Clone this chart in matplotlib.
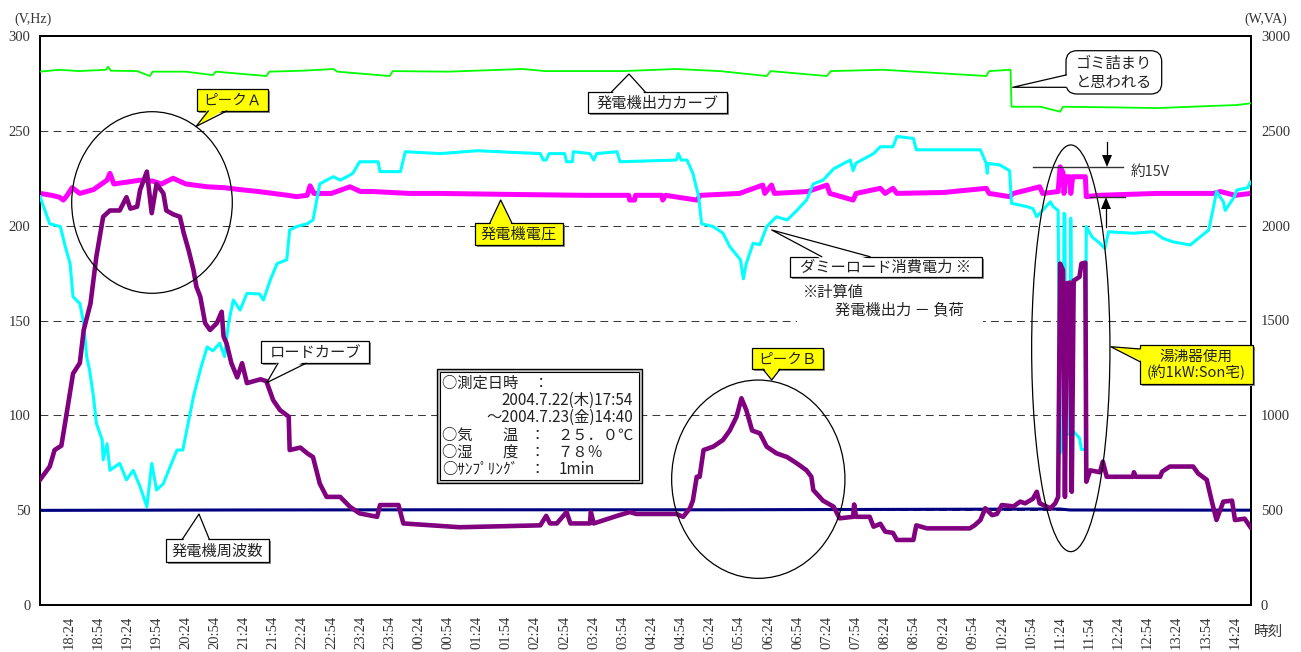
import matplotlib
matplotlib.use("Agg")
import matplotlib.pyplot as plt
from matplotlib.patches import Ellipse, Polygon, FancyBboxPatch, Rectangle
from matplotlib.lines import Line2D
from matplotlib.transforms import IdentityTransform

plt.rcParams['font.family'] = ['Noto Sans CJK JP', 'DejaVu Sans']
SERIF = ['Liberation Serif', 'Noto Sans CJK JP']

# ---------------- data (minutes after 2004-07-22 17:54) ----------------
START_MIN = 17 * 60 + 54
END_MIN = 1246
X_TICK_MIN = list(range(30, 1231, 30))
LEFT_TICKS = [0, 50, 100, 150, 200, 250, 300]
RIGHT_TICKS = [0, 500, 1000, 1500, 2000, 2500, 3000]
GRID_V = [50, 100, 150, 200, 250]

# generator output curve (W)
GEN_OUT = [(0, 2812), (20, 2822), (40, 2815), (68, 2822), (70, 2838), (73, 2817), (100, 2815),
           (113, 2789), (116, 2812), (150, 2812), (178, 2794), (181, 2812), (233, 2789), (236, 2812),
           (270, 2817), (302, 2826), (306, 2812), (360, 2789), (363, 2815), (420, 2812), (497, 2826),
           (520, 2815), (600, 2815), (655, 2826), (700, 2815), (748, 2789), (752, 2815), (810, 2789),
           (814, 2815), (868, 2822), (900, 2812), (974, 2789), (977, 2815), (999, 2822), (1000, 2627),
           (1030, 2627), (1050, 2601), (1053, 2627), (1100, 2624), (1150, 2620), (1200, 2630),
           (1232, 2636), (1246, 2645)]

# dummy load consumption (W) = output - load
DUMMY = [(0, 2153), (10, 2010), (21, 1995), (26, 1890), (31, 1800), (34, 1625), (41, 1590), (45, 1485),
         (48, 1310), (51, 1240), (55, 1100), (58, 958), (64, 870), (65, 765), (69, 850), (72, 710),
         (82, 747), (89, 660), (96, 710), (103, 624), (110, 518), (115, 747), (120, 606), (127, 640),
         (134, 730), (141, 817), (147, 817), (151, 920), (158, 1100), (165, 1240), (172, 1360),
         (178, 1340), (185, 1380), (190, 1310), (194, 1485), (199, 1608), (206, 1555), (213, 1643),
         (226, 1640), (230, 1608), (237, 1713), (244, 1800), (254, 1820), (257, 1977), (264, 1995),
         (275, 2010), (281, 2030), (288, 2220), (295, 2240), (302, 2258), (309, 2240), (316, 2258),
         (322, 2276), (329, 2337), (348, 2337), (350, 2285), (371, 2285), (376, 2390), (412, 2380),
         (450, 2395), (515, 2380), (518, 2346), (521, 2346), (524, 2380), (540, 2380), (542, 2337),
         (548, 2337), (549, 2390), (566, 2380), (570, 2346), (573, 2380), (594, 2390), (597, 2337),
         (655, 2346), (657, 2380), (660, 2346), (666, 2346), (672, 2276), (678, 2153), (681, 2010),
         (693, 1995), (703, 1960), (710, 1890), (721, 1820), (724, 1720), (727, 1800), (734, 1907),
         (741, 1900), (748, 1995), (758, 2047), (769, 2030), (779, 2080), (789, 2135), (796, 2220),
         (806, 2240), (817, 2300), (834, 2346), (837, 2290), (840, 2330), (858, 2380), (865, 2416),
         (878, 2416), (882, 2470), (899, 2460), (902, 2400), (968, 2400), (974, 2328), (975, 2276),
         (976, 2328), (988, 2320), (998, 2290), (1000, 2118), (1016, 2100), (1022, 2090), (1026, 2047),
         (1040, 2126), (1043, 2100), (1048, 2080), (1050, 800), (1053, 830), (1054, 2065), (1055, 2060),
         (1056, 900), (1060, 900), (1061, 2040), (1063, 920), (1070, 880), (1072, 820), (1076, 820),
         (1077, 1995), (1083, 1940), (1091, 1907), (1096, 1880), (1100, 1968), (1125, 1960),
         (1146, 1968), (1156, 1933), (1166, 1915), (1184, 1898), (1194, 1940), (1203, 1977),
         (1208, 2100), (1211, 2180), (1218, 2126), (1220, 2080), (1229, 2150), (1232, 2188),
         (1243, 2200), (1246, 2230)]

# load curve (W)
LOAD = [(0, 660), (10, 730), (15, 817), (22, 840), (28, 1028), (34, 1220), (41, 1276), (45, 1450),
        (52, 1590), (58, 1836), (65, 2047), (72, 2080), (82, 2080), (89, 2150), (93, 2090), (100, 2100),
        (103, 2188), (110, 2285), (115, 2066), (120, 2220), (127, 2170), (130, 2080), (137, 2060),
        (144, 2047), (148, 1960), (153, 1870), (158, 1766), (161, 1678), (165, 1625), (170, 1486),
        (175, 1450), (182, 1486), (187, 1546), (189, 1415), (192, 1380), (197, 1275), (203, 1200),
        (208, 1275), (213, 1170), (227, 1190), (233, 1180), (240, 1080), (247, 1028), (256, 993),
        (257, 817), (268, 830), (275, 800), (281, 780), (288, 640), (295, 570), (309, 570), (319, 518),
        (329, 483), (347, 465), (350, 527), (369, 527), (374, 430), (432, 410), (515, 420), (521, 470),
        (525, 430), (532, 430), (542, 490), (546, 430), (566, 430), (567, 490), (570, 430), (594, 470),
        (607, 490), (614, 480), (655, 480), (662, 465), (669, 510), (672, 550), (676, 676), (679, 676),
        (683, 817), (693, 835), (703, 870), (710, 920), (717, 993), (722, 1090), (727, 1028), (733, 920),
        (741, 905), (748, 835), (758, 800), (769, 780), (779, 747), (789, 710), (794, 676), (796, 606),
        (806, 550), (817, 518), (823, 457), (837, 465), (838, 530), (840, 465), (854, 465), (858, 413),
        (865, 428), (870, 387), (878, 380), (882, 343), (899, 343), (902, 420), (913, 404), (957, 404),
        (962, 420), (968, 448), (973, 510), (980, 474), (985, 480), (990, 527), (1002, 520), (1009, 545),
        (1014, 536), (1022, 560), (1026, 597), (1029, 536), (1040, 510), (1045, 536), (1048, 570),
        (1050, 1800), (1053, 1765), (1055, 570), (1057, 1696), (1060, 1700), (1062, 597), (1064, 1710),
        (1070, 1730), (1072, 1800), (1076, 1805), (1077, 650), (1081, 710), (1091, 700), (1094, 756),
        (1098, 676), (1125, 676), (1126, 700), (1128, 676), (1153, 676), (1155, 703), (1163, 730),
        (1187, 730), (1192, 694), (1201, 660), (1206, 550), (1211, 448), (1218, 545), (1227, 550),
        (1230, 448), (1240, 455), (1246, 410)]

# generator voltage (V)
VOLT = [(0, 217), (12, 216), (20, 215), (24, 213.5), (28, 216), (33, 220), (41, 217), (55, 219),
        (69, 224), (72, 227.6), (76, 222), (90, 223), (103, 224), (116, 223.5), (125, 222), (137, 225),
        (150, 222), (172, 220.5), (190, 220), (206, 219), (225, 218), (240, 217), (255, 216),
        (264, 215.3), (275, 216), (278, 221), (282, 217), (300, 217), (319, 220.5), (330, 218),
        (343, 218), (380, 217), (412, 217), (480, 216.5), (560, 216), (606, 216), (607, 213.5),
        (612, 213.5), (613, 216), (640, 216), (641, 213.5), (644, 216), (676, 213.5), (680, 216),
        (720, 217), (744, 221.4), (746, 217), (753, 221.4), (756, 217), (790, 218), (810, 221.4),
        (813, 217), (837, 213.5), (840, 217), (865, 219.7), (870, 217), (878, 219.7), (882, 217),
        (930, 217.5), (974, 219.7), (977, 217), (998, 215.3), (1002, 217), (1029, 220.5), (1032, 217),
        (1048, 218), (1050, 231), (1053, 228), (1054, 217), (1056, 225.8), (1060, 225.8), (1061, 217),
        (1063, 225.8), (1076, 225.8), (1077, 215.3), (1090, 216), (1150, 217), (1208, 217),
        (1215, 218), (1230, 216), (1246, 217)]

# generator frequency (Hz)
FREQ = [(0, 49.9), (200, 50.1), (400, 50.2), (700, 50.2), (1050, 50.6), (1060, 50.1), (1246, 50.0)]

# ---------------- figure ----------------
W, H = 1301, 652
fig = plt.figure(figsize=(W / 100, H / 100), dpi=100)
ax = fig.add_axes([40 / W, (H - 605) / H, 1210.5 / W, 569 / H])
ax.set_facecolor('white')
ax.set_xlim(0, END_MIN)
ax.set_ylim(0, 300)
ax2 = ax.twinx()
ax2.set_ylim(0, 3000)

for v in GRID_V:
    ax.axhline(v, color='#3a3a3a', lw=0.75, linestyle=(0, (7.5, 5)), zorder=1)


def split(pairs):
    return [p[0] for p in pairs], [p[1] for p in pairs]


t, v = split(VOLT)
ax.plot(t, v, color='#FF00FF', lw=3.6, zorder=3)
t, v = split(FREQ)
ax.plot(t, v, color='#000080', lw=2.2, zorder=4)
t, v = split(GEN_OUT)
ax2.plot(t, v, color='#00FF00', lw=1.3, zorder=3)
t, v = split(DUMMY)
ax2.plot(t, v, color='#00FFFF', lw=2.2, zorder=4)
t, v = split(LOAD)
ax2.plot(t, v, color='#800080', lw=3.3, zorder=5)


# ticks
def tlabel(m):
    tt = START_MIN + m
    return f"{(tt // 60) % 24:02d}:{tt % 60:02d}"


ax.set_xticks(X_TICK_MIN)
ax.set_xticklabels([tlabel(m) for m in X_TICK_MIN], rotation=90, fontsize=10.5,
                   fontfamily=SERIF, color='#333333')
ax.set_yticks(LEFT_TICKS)
ax.set_yticklabels([str(x) for x in LEFT_TICKS], fontsize=10.5, fontfamily=SERIF, color='#333333')
ax2.set_yticks(RIGHT_TICKS)
ax2.set_yticklabels([str(x) for x in RIGHT_TICKS], fontsize=10.5, fontfamily=SERIF, color='#333333')
ax.tick_params(axis='x', length=0, pad=8)
ax.tick_params(axis='y', length=0, pad=7)
ax2.tick_params(axis='y', length=0, pad=7.5)
for a in (ax, ax2):
    for s in a.spines.values():
        s.set_linewidth(1.3)
        s.set_color('black')

I = IdentityTransform()


def D(x, y):
    return (x, H - y)


def ftext(x, y, s, **kw):
    kw.setdefault('zorder', 30)
    kw.setdefault('color', '#222222')
    fig.text(x / W, 1 - y / H, s, **kw)


def callout(box, b1, b2, tip, text, fc, fs=11, rounded=False, shadow=True):
    x0, y0, x1, y1 = box
    if shadow:
        fig.add_artist(Rectangle((x0 + 2, H - y1 - 2), x1 - x0, y1 - y0, transform=I,
                                 fc='#8c8c8c', ec='none', zorder=20))
    if rounded:
        p = FancyBboxPatch((x0, H - y1), x1 - x0, y1 - y0,
                           boxstyle='round,pad=0,rounding_size=11', transform=I,
                           fc=fc, ec='black', lw=0.9, zorder=21)
    else:
        p = Rectangle((x0, H - y1), x1 - x0, y1 - y0, transform=I, fc=fc, ec='black',
                      lw=0.9, zorder=21)
    fig.add_artist(p)
    dx = dy = 0
    if abs(b1[1] - b2[1]) < 0.5:
        dy = 2.5 if tip[1] < b1[1] else -2.5
    else:
        dx = 2.5 if tip[0] < b1[0] else -2.5
    poly = Polygon([D(b1[0] + dx, b1[1] + dy), D(*tip), D(b2[0] + dx, b2[1] + dy)],
                   closed=True, transform=I, fc=fc, ec='none', zorder=22)
    fig.add_artist(poly)
    fig.add_artist(Line2D([b1[0], tip[0], b2[0]], [H - b1[1], H - tip[1], H - b2[1]],
                          transform=I, color='black', lw=0.9, zorder=23))
    ftext((x0 + x1) / 2, (y0 + y1) / 2 + 0.5, text, ha='center', va='center', fontsize=fs,
          linespacing=1.15)


def ellipse(cx, cy, w, h):
    fig.add_artist(Ellipse(D(cx, cy), w, h, transform=I, fill=False, ec='black', lw=0.9,
                           zorder=15))


# ellipses
ellipse(152, 202.5, 160.6, 181.6)
ellipse(758.3, 479.2, 173.3, 198.3)
ellipse(1070.8, 348.3, 78.3, 406.7)

YEL = '#FFFF00'
callout((197, 89, 268, 111), (208.3, 111), (226.7, 111), (196, 126.5), 'ピークＡ', YEL, fs=10.5)
callout((587.7, 91.7, 726.7, 113.3), (611.7, 91.7), (645, 91.7), (629, 74), '発電機出力カーブ', 'white')
callout((475, 222.7, 562.7, 245), (490, 222.7), (511.7, 222.7), (500.7, 200), '発電機電圧', YEL)
callout((790, 256.7, 981.7, 276.7), (821.7, 256.7), (870, 256.7), (771.7, 230),
        'ダミーロード消費電力 ※', 'white')
callout((751.7, 348.3, 823.3, 369.3), (763, 369.3), (780, 369.3), (771.7, 380), 'ピークＢ', YEL, fs=10.5)
callout((261, 341, 369.3, 363.3), (278, 363.3), (306, 363.3), (266.7, 382.7), 'ロードカーブ', 'white')
callout((1140, 345, 1252.7, 384), (1140, 349), (1140, 361.7), (1110.7, 346.7),
        '湯沸器使用\n(約1kW:Son宅)', YEL, fs=10.5)
callout((1066, 50.7, 1161.7, 94), (1066, 75), (1066, 87.3), (1012.7, 87.3),
        'ゴミ詰まり\nと思われる', 'white', rounded=True, shadow=False)
callout((165.7, 539.3, 269.3, 561.7), (182.3, 539.3), (209.3, 539.3), (199, 514), '発電機周波数', 'white')

# note with white background
fig.add_artist(Rectangle((797, H - 323), 186, 42, transform=I, fc='white', ec='none', zorder=19))
ftext(803, 292, '※計算値', ha='left', va='center', fontsize=11)
ftext(835, 310, '発電機出力 － 負荷', ha='left', va='center', fontsize=11)

# info box
fig.add_artist(Rectangle((437.3, H - 482.7), 204.4, 113.4, transform=I, fc='#c8c8c8', ec='black',
                         lw=1.0, zorder=20))
fig.add_artist(Rectangle((440.3, H - 479.7), 198.4, 107.4, transform=I, fc='white', ec='black',
                         lw=0.8, zorder=21))
INFO_FS = 11
ftext(442, 383.5, '○測定日時　：', ha='left', va='center', fontsize=INFO_FS)
ftext(633, 400.5, '2004.7.22(木)17:54', ha='right', va='center', fontsize=INFO_FS)
ftext(633, 417.5, '～2004.7.23(金)14:40', ha='right', va='center', fontsize=INFO_FS)
ftext(442, 435, '○気　　温', ha='left', va='center', fontsize=INFO_FS)
ftext(442, 452, '○湿　　度', ha='left', va='center', fontsize=INFO_FS)
ftext(442, 469.5, '○ｻﾝﾌﾟﾘﾝｸﾞ', ha='left', va='center', fontsize=INFO_FS)
for yy in (435, 452, 469.5):
    ftext(537, yy, '：', ha='center', va='center', fontsize=INFO_FS)
ftext(557, 435, '２５．０℃', ha='left', va='center', fontsize=INFO_FS)
ftext(557, 452, '７８％', ha='left', va='center', fontsize=INFO_FS)
ftext(559, 469.5, '1min', ha='left', va='center', fontsize=INFO_FS)

# about 15V marker
fig.add_artist(Line2D([1033, 1123], [H - 167.3, H - 167.3], transform=I, color='#333333', lw=1.0,
                      zorder=25))
fig.add_artist(Line2D([1090, 1125], [H - 196.7, H - 196.7], transform=I, color='#333333', lw=1.0,
                      zorder=25))
fig.add_artist(Line2D([1107, 1107], [H - 141.5, H - 156], transform=I, color='black', lw=0.9,
                      zorder=25))
fig.add_artist(Polygon([D(1102, 155), D(1112, 155), D(1107, 167)], transform=I, fc='black',
                       ec='none', zorder=25))
fig.add_artist(Line2D([1106, 1106], [H - 227, H - 208], transform=I, color='black', lw=0.9,
                      zorder=25))
fig.add_artist(Polygon([D(1101, 209), D(1111, 209), D(1106, 197)], transform=I, fc='black',
                       ec='none', zorder=25))
ftext(1131, 172, '約15V', ha='left', va='center', fontsize=10.5, color='#333333')

# axis unit labels
ftext(33, 19, '(V,Hz)', ha='center', va='center', fontsize=10, family=SERIF, color='#333333')
ftext(1266, 19, '(W,VA)', ha='center', va='center', fontsize=10, family=SERIF, color='#333333')
ftext(1269, 632, '時刻', ha='center', va='center', fontsize=10.5, color='#333333')

fig.savefig('out.png', dpi=100)
